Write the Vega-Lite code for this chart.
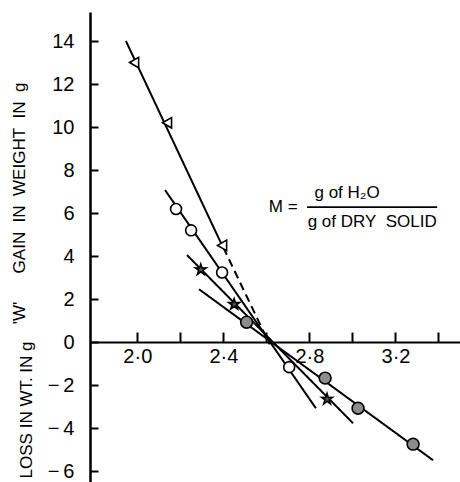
{
  "$schema": "https://vega.github.io/schema/vega-lite/v6.json",
  "width": 370,
  "height": 470,
  "autosize": {"type": "none"},
  "padding": {"left": 90, "top": 12, "right": 0, "bottom": 0},
  "config": {"view": {"stroke": null}, "font": "Liberation Sans"},
  "datasets": {
    "lines": [
      {"seg": "tri", "style": "solid", "x": 1.947, "y": 14.0},
      {"seg": "tri", "style": "solid", "x": 2.394, "y": 4.5},
      {"seg": "tridash", "style": "dashed", "x": 2.40, "y": 4.4},
      {"seg": "tridash", "style": "dashed", "x": 2.615, "y": -0.1},
      {"seg": "open", "style": "solid", "x": 2.129, "y": 7.07},
      {"seg": "open", "style": "solid", "x": 2.83, "y": -3.07},
      {"seg": "star", "style": "solid", "x": 2.231, "y": 4.05},
      {"seg": "star", "style": "solid", "x": 3.003, "y": -3.77},
      {"seg": "filled", "style": "solid", "x": 2.287, "y": 2.46},
      {"seg": "filled", "style": "solid", "x": 3.375, "y": -5.49}
    ],
    "points": [
      {"kind": "triangle", "x": 1.985, "y": 13.0},
      {"kind": "triangle", "x": 2.138, "y": 10.2},
      {"kind": "triangle", "x": 2.394, "y": 4.5},
      {"kind": "open", "x": 2.18, "y": 6.19},
      {"kind": "open", "x": 2.25, "y": 5.2},
      {"kind": "open", "x": 2.394, "y": 3.24},
      {"kind": "open", "x": 2.706, "y": -1.16},
      {"kind": "star", "x": 2.295, "y": 3.37},
      {"kind": "star", "x": 2.45, "y": 1.76},
      {"kind": "star", "x": 2.882, "y": -2.65},
      {"kind": "filled", "x": 2.508, "y": 0.93},
      {"kind": "filled", "x": 2.873, "y": -1.67},
      {"kind": "filled", "x": 3.026, "y": -3.07},
      {"kind": "filled", "x": 3.282, "y": -4.74}
    ],
    "texts": [
      {"label": "'W'\u00a0\u00a0\u00a0\u00a0\u00a0\u00a0GAIN\u00a0\u00a0IN\u00a0\u00a0WEIGHT\u00a0\u00a0IN\u00a0\u00a0g", "x": 1.454, "y": 6.45, "angle": 270, "size": 17},
      {"label": "LOSS IN WT. IN g", "x": 1.487, "y": -3.15, "angle": 270, "size": 17},
      {"label": "M =", "x": 2.678, "y": 6.3, "angle": 0, "size": 17},
      {"label": "g of H₂O", "x": 2.975, "y": 6.95, "angle": 0, "size": 17},
      {"label": "g of DRY\u00a0\u00a0SOLID", "x": 3.092, "y": 5.6, "angle": 0, "size": 17}
    ],
    "bar": [{"x": 2.789, "x2": 3.394, "y": 6.28}]
  },
  "layer": [
    {
      "data": {"name": "lines"},
      "mark": {"type": "line", "color": "black", "strokeWidth": 2},
      "encoding": {
        "x": {
          "field": "x", "type": "quantitative",
          "scale": {"domain": [1.78, 3.5], "nice": false, "zero": false},
          "axis": {
            "orient": "bottom", "offset": -140, "title": null, "grid": false,
            "values": [2.0, 2.2, 2.4, 2.6, 2.8, 3.0, 3.2, 3.4],
            "tickSize": -10, "tickWidth": 2, "tickColor": "black",
            "domainColor": "black", "domainWidth": 2,
            "labelFontSize": 20, "labelColor": "black", "labelPadding": 14,
            "labelFont": "Liberation Sans",
            "labelExpr": "indexof(['2.0','2.4','2.8','3.2'], format(datum.value,'.1f')) >= 0 ? replace(format(datum.value,'.1f'),'.','·') : ''"
          }
        },
        "y": {
          "field": "y", "type": "quantitative",
          "scale": {"domain": [-6.5, 15.35], "nice": false, "zero": false},
          "axis": {
            "orient": "left", "title": null, "grid": false,
            "values": [-6, -4, -2, 0, 2, 4, 6, 8, 10, 12, 14],
            "tickSize": -8, "tickWidth": 2, "tickColor": "black",
            "domainColor": "black", "domainWidth": 2.5,
            "labelFontSize": 20, "labelColor": "black", "labelPadding": 24,
            "labelFont": "Liberation Sans",
            "labelExpr": "datum.value < 0 ? '−\u2009' + abs(datum.value) : '' + datum.value"
          }
        },
        "detail": {"field": "seg"},
        "strokeDash": {
          "field": "style", "type": "nominal",
          "scale": {"domain": ["solid", "dashed"], "range": [[1, 0], [8, 5]]},
          "legend": null
        }
      }
    },
    {
      "data": {"name": "points"},
      "mark": {"type": "point", "filled": true, "stroke": "black", "strokeWidth": 1.6, "opacity": 1},
      "encoding": {
        "x": {"field": "x", "type": "quantitative"},
        "y": {"field": "y", "type": "quantitative"},
        "shape": {
          "field": "kind", "type": "nominal",
          "scale": {"domain": ["triangle", "open", "star", "filled"],
                    "range": ["triangle-left", "circle", "M0,-1L0.223,-0.307L0.951,-0.309L0.361,0.117L0.588,0.809L0,0.38L-0.588,0.809L-0.361,0.117L-0.951,-0.309L-0.223,-0.307Z", "circle"]},
          "legend": null
        },
        "fill": {
          "field": "kind", "type": "nominal",
          "scale": {"domain": ["triangle", "open", "star", "filled"], "range": ["white", "white", "#555555", "#8c8c8c"]},
          "legend": null
        },
        "size": {
          "field": "kind", "type": "nominal",
          "scale": {"domain": ["triangle", "open", "star", "filled"], "range": [110, 140, 70, 140]},
          "legend": null
        }
      }
    },
    {
      "data": {"name": "bar"},
      "mark": {"type": "rule", "color": "black", "strokeWidth": 1.8},
      "encoding": {
        "x": {"field": "x", "type": "quantitative"},
        "x2": {"field": "x2"},
        "y": {"field": "y", "type": "quantitative"}
      }
    },
    {
      "data": {"name": "texts"},
      "mark": {"type": "text", "align": "center", "baseline": "middle", "color": "black", "font": "Liberation Sans"},
      "encoding": {
        "x": {"field": "x", "type": "quantitative"},
        "y": {"field": "y", "type": "quantitative"},
        "text": {"field": "label"},
        "angle": {"field": "angle", "type": "quantitative", "scale": null},
        "size": {"field": "size", "type": "quantitative", "scale": null}
      }
    }
  ]
}
